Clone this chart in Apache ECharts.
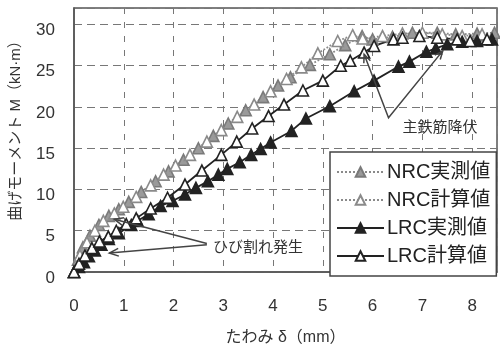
<!DOCTYPE html>
<html><head><meta charset="utf-8">
<script src="https://cdn.jsdelivr.net/npm/echarts@6/dist/echarts.min.js"></script>
<style>html,body{margin:0;padding:0;background:#fff}#c{width:500px;height:351px}</style>
</head><body><div id="c"></div>
<script>
// ---- data ----
const seriesNames = ['NRC実測値', 'NRC計算値', 'LRC実測値', 'LRC計算値'];
const xTickLabels = ['0','1','2','3','4','5','6','7','8'];
const yTickLabels = ['0','5','10','15','20','25','30'];

const nrcMeasured = [[0,0],[0.08,1.5],[0.18,3.0],[0.32,4.4],[0.5,5.7],[0.7,6.8],[0.9,7.6],[1.1,8.5],[1.35,9.7],[1.64,11.0],[1.9,12.2],[2.2,13.6],[2.5,15.0],[2.8,16.5],[3.1,18.0],[3.45,19.6],[3.8,21.2],[4.1,22.6],[4.35,23.6],[4.74,25.1],[5.14,26.4],[5.45,27.5],[5.79,28.6],[6.0,28.2],[6.4,28.5],[6.8,29.0],[7.3,29.0],[7.67,28.8],[8.1,28.9],[8.45,29.0]];
const nrcCalc = [[0,0],[0.12,2.0],[0.26,3.6],[0.42,5.0],[0.59,6.2],[0.81,7.1],[0.99,7.9],[1.25,9.1],[1.54,10.5],[1.8,11.8],[2.04,12.9],[2.33,14.2],[2.67,15.8],[2.96,17.2],[3.28,18.8],[3.62,20.3],[3.95,21.9],[4.27,23.4],[4.57,24.8],[4.9,26.5],[5.3,28.0],[5.6,28.7],[5.8,28.3],[6.2,28.6],[6.6,28.9],[7.0,29.0],[7.4,28.8],[7.8,28.6],[8.2,28.8]];
const lrcMeasured = [[0,0],[0.1,0.6],[0.2,1.2],[0.3,1.9],[0.42,2.6],[0.55,3.3],[0.7,4.0],[0.9,4.7],[1.15,5.7],[1.28,6.2],[1.5,7.0],[1.74,8.0],[1.98,8.6],[2.23,9.4],[2.45,10.2],[2.69,11.0],[2.9,11.8],[3.08,12.5],[3.33,13.3],[3.56,14.2],[3.75,14.9],[3.95,15.7],[4.37,17.1],[4.66,18.6],[5.14,20.1],[5.63,21.9],[6.03,23.2],[6.52,24.9],[6.74,25.5],[7.08,26.7],[7.27,27.1],[7.5,27.6],[7.8,27.9],[8.1,28.0],[8.4,28.2]];
const lrcCalc = [[0,0],[0.1,1.0],[0.22,2.0],[0.36,2.9],[0.51,3.7],[0.69,4.3],[0.85,5.0],[1.05,5.8],[1.25,6.5],[1.54,7.7],[1.88,9.0],[2.23,10.6],[2.57,12.3],[2.96,14.2],[3.27,15.8],[3.58,17.4],[3.91,18.9],[4.22,20.3],[4.6,22.0],[5.0,23.2],[5.36,25.0],[5.55,25.6],[5.83,26.6],[6.03,27.4],[6.42,28.2],[6.6,28.4],[6.94,28.6],[7.3,28.4],[7.7,28.2],[7.96,28.0],[8.3,28.2]];

// annotation lines (data coordinates)
const yieldNote = {text:'主鉄筋降伏', pts:[[5.83,26.4],[6.32,18.7],[7.41,26.8]]};
const crackNote = {text:'ひび割れ発生', upper:[[0.81,6.4],[2.67,3.45]], lower:[[0.71,2.3],[2.67,3.3]]};

const FONT = "'Liberation Sans','Noto Sans CJK JP',sans-serif";
const chart = echarts.init(document.getElementById('c'), null, {renderer:'canvas'});

function mk(name, data, lineColor, lineType, lineWidth, fill, border) {
  return {
    name, type:'line', data, symbol:'triangle', symbolSize:11,
    lineStyle:{color:lineColor, width:lineWidth, type:lineType},
    itemStyle:{color:fill, borderColor:border, borderWidth:1.6},
    emphasis:{disabled:true}, animation:false, z:3
  };
}

const option = {
  animation:false,
  backgroundColor:'#fff',
  grid:{left:72, top:8, width:430, height:269, show:true, borderColor:'#555', borderWidth:1.5, backgroundColor:'transparent'},
  xAxis:{
    type:'value', min:0, max:8.5, interval:1,
    name:'たわみ δ（mm）', nameLocation:'middle', nameGap:58,
    nameTextStyle:{fontSize:16, color:'#333', fontFamily:FONT},
    axisLine:{show:true, lineStyle:{color:'#555', width:1.5}},
    axisTick:{show:false},
    axisLabel:{fontSize:17, color:'#333', margin:26, fontFamily:FONT,
      formatter:v => xTickLabels.includes(String(v)) ? String(v) : ''},
    splitLine:{show:true, lineStyle:{color:'#777', width:1, type:[6,8]}}
  },
  yAxis:{
    type:'value', min:0, max:32, interval:5,
    name:'曲げモーメント M（kN·m）', nameLocation:'middle', nameGap:51, nameRotate:90,
    nameTextStyle:{fontSize:15, color:'#333', fontFamily:FONT, padding:[0,0,0,26]},
    axisLine:{show:true, lineStyle:{color:'#555', width:1.5}},
    axisTick:{show:false},
    axisLabel:{fontSize:17, color:'#333', margin:19, fontFamily:FONT, verticalAlign:'top', lineHeight:12,
      formatter:v => yTickLabels.includes(String(v)) ? String(v) : ''},
    splitLine:{show:true, lineStyle:{color:'#777', width:1, type:[8,5]}}
  },
  legend:{
    data:seriesNames, orient:'vertical', left:330, top:152,
    itemWidth:47, itemHeight:12, itemGap:8,
    padding:[10,6,10,6],
    backgroundColor:'#fff', borderColor:'#444', borderWidth:1.5, borderRadius:0,
    textStyle:{fontSize:20, color:'#222', fontFamily:FONT, lineHeight:20, padding:[0,0,0,-2]},
    selectedMode:false
  },
  series:[
    mk(seriesNames[0], nrcMeasured, '#8a8a8a', 'dotted', 1.8, '#9a9a9a', '#7a7a7a'),
    mk(seriesNames[1], nrcCalc, '#8a8a8a', 'dotted', 1.8, '#ffffff', '#8a8a8a'),
    mk(seriesNames[2], lrcMeasured, '#222', 'solid', 1.8, '#222', '#222'),
    mk(seriesNames[3], lrcCalc, '#222', 'solid', 1.8, '#ffffff', '#222')
  ]
};
chart.setOption(option);

// ---- annotations ----
function px(p){ return chart.convertToPixel({gridIndex:0}, p); }
function arrowHead(from, tip, len, ang){
  const dx = from[0]-tip[0], dy = from[1]-tip[1];
  const d = Math.hypot(dx,dy), ux = dx/d, uy = dy/d;
  const r = a => [tip[0] + len*(ux*Math.cos(a) - uy*Math.sin(a)), tip[1] + len*(ux*Math.sin(a) + uy*Math.cos(a))];
  return [r(ang), tip, r(-ang)];
}
const lineStyle = {stroke:'#444', lineWidth:1.5, fill:null};
const g = [];
const yp = yieldNote.pts.map(px);
g.push({type:'polyline', shape:{points:yp}, style:lineStyle, z:10});
g.push({type:'polyline', shape:{points:arrowHead(yp[1], yp[2], 9, 0.4)}, style:lineStyle, z:10});
g.push({type:'polyline', shape:{points:arrowHead(yp[1], yp[0], 9, 0.4)}, style:lineStyle, z:10});
g.push({type:'text', x:440, y:128, style:{text:yieldNote.text, fontSize:15, fill:'#333', fontFamily:FONT, align:'center', verticalAlign:'middle'}, z:10});
[crackNote.upper, crackNote.lower].forEach(seg => {
  const p = seg.map(px);
  g.push({type:'polyline', shape:{points:p}, style:lineStyle, z:10});
  g.push({type:'polyline', shape:{points:arrowHead(p[1], p[0], 10, 0.4)}, style:lineStyle, z:10});
});
g.push({type:'text', x:258, y:248, style:{text:crackNote.text, fontSize:15, fill:'#333', fontFamily:FONT, align:'center', verticalAlign:'middle', backgroundColor:'#fff'}, z:10});
chart.setOption({graphic:g});
</script>
</body></html>
